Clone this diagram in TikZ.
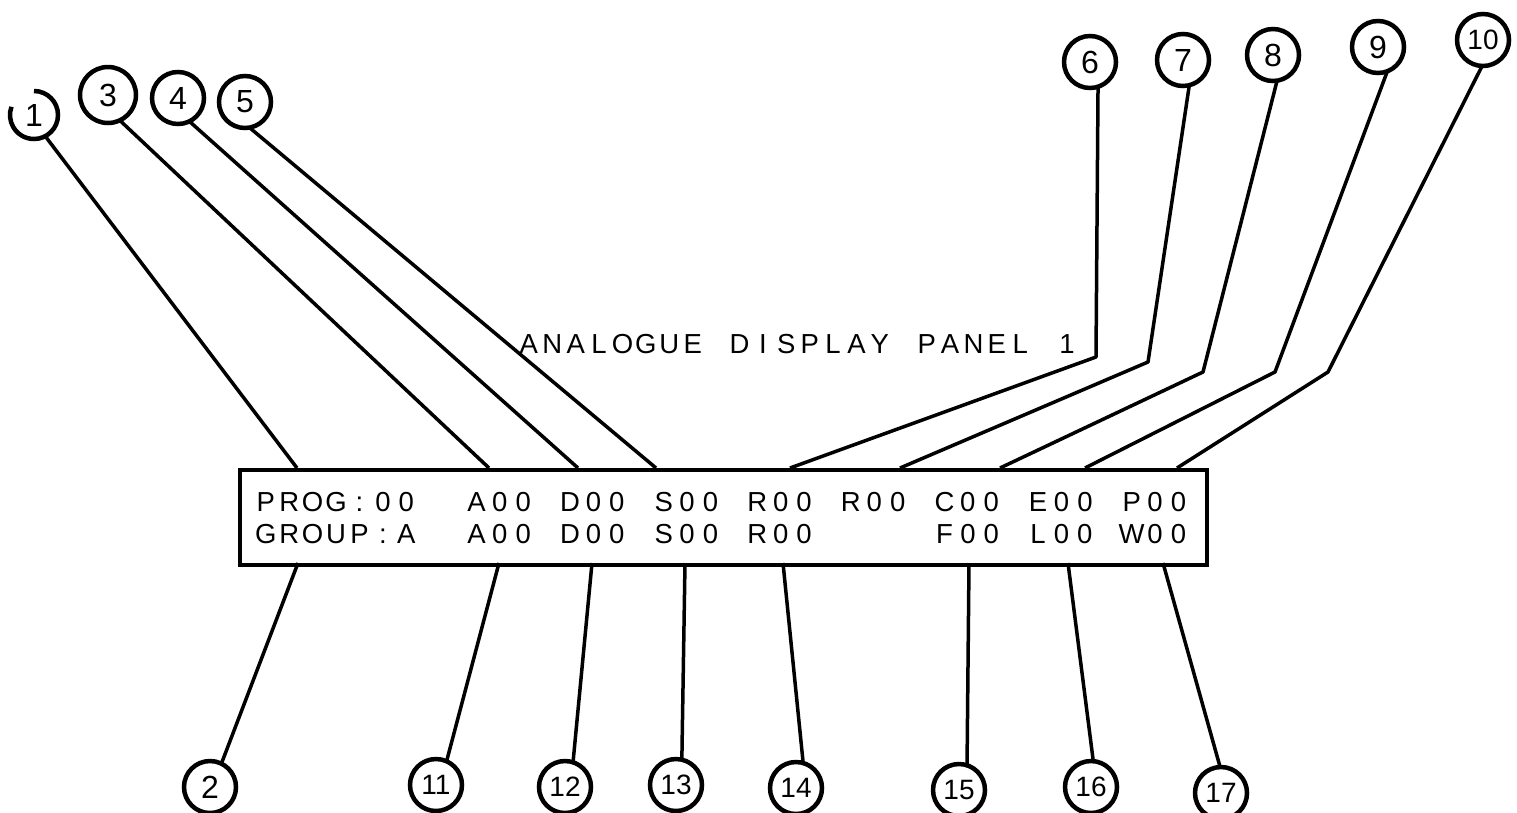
\documentclass[tikz,border=0pt]{standalone}
\usepackage{fontspec}
\setmainfont{Liberation Sans}
\newlength\cw
\setlength\cw{23.4pt}
\newcommand\cells[1]{\cellsaux#1\relax}
\def\cellsaux#1{\ifx#1\relax\else\makebox[\cw][c]{#1}\expandafter\cellsaux\fi}
\newcommand\cellsof[1]{\expandafter\cells\expandafter{#1}}
\tikzset{
  num/.style={circle, draw, line width=4.5pt, minimum size=52pt, inner sep=0pt, outer sep=0pt, font=\fontsize{32}{32}\selectfont},
  numtwo/.style={num, font=\fontsize{28}{28}\selectfont},
  lead/.style={line width=3.5pt, line join=round},
  disp/.style={anchor=base west, inner sep=0pt, font=\fontsize{27.5}{27.5}\selectfont},
}
\begin{document}
\begin{tikzpicture}[x=1pt,y=1pt]
\useasboundingbox (0,0) rectangle (1517,-812);
% panel
\node[draw, line width=3.5pt, minimum width=967pt, minimum height=95pt, inner sep=0pt, anchor=north west] (panel) at (238,-468) {};
% display text
\foreach \t/\i [count=\n] in {PROG:00/0, A00/9, D00/13, S00/17, R00/21, R00/25, C00/29, E00/33, P00/37}
  \node[disp] (ra\n) at ({254+\i*23.4},-511) {\cellsof{\t}};
\foreach \t/\i [count=\n] in {GROUP:A/0, A00/9, D00/13, S00/17, R00/21, F00/29, L00/33, W00/37}
  \node[disp] (rb\n) at ({254+\i*23.4},-543) {\cellsof{\t}};
\foreach \t/\i [count=\n] in {ANALOGUE/0, DISPLAY/9, PANEL/17, 1/23}
  \node[disp] (ti\n) at ({517+\i*23.4},-353) {\cellsof{\t}};
% top attachment points
\coordinate (t1) at (297,-468);
\coordinate (t3) at (489,-468);
\coordinate (t4) at (578,-468);
\coordinate (t5) at (656,-468);
\coordinate (t6) at (790,-468);
\coordinate (t7) at (900,-468);
\coordinate (t8) at (1000,-468);
\coordinate (t9) at (1085,-468);
\coordinate (t10) at (1177,-468);
% bends
\coordinate (k6) at (1096,-357);
\coordinate (k7) at (1148,-362);
\coordinate (k8) at (1203,-372);
\coordinate (k9) at (1275,-372);
\coordinate (k10) at (1328,-372);
% bottom attachment points
\coordinate (u2) at (298,-563);
\coordinate (u11) at (499,-563);
\coordinate (u12) at (592,-563);
\coordinate (u13) at (685,-563);
\coordinate (u14) at (783,-563);
\coordinate (u15) at (969,-563);
\coordinate (u16) at (1068,-563);
\coordinate (u17) at (1163,-563);
% circles top left
\node[num, draw=none, minimum size=48pt] (c1) at (34,-115) {1};
\draw[line width=4.5pt] (c1.90) arc[start angle=90, end angle=-200, radius=24pt];
\node[num, minimum size=56pt] (c3) at (108,-95) {3};
\node[num] (c4) at (178,-98) {4};
\node[num] (c5) at (245,-102) {5};
% circles top right
\node[num] (c6) at (1090,-62) {6};
\node[num] (c7) at (1183,-60) {7};
\node[num] (c8) at (1273,-55) {8};
\node[num] (c9) at (1378,-47) {9};
\node[numtwo] (c10) at (1483,-40) {10};
% circles bottom
\node[num] (c2) at (210,-787) {2};
\node[numtwo] (c11) at (436,-785) {11};
\node[numtwo] (c12) at (565,-787) {12};
\node[numtwo] (c13) at (676,-785) {13};
\node[numtwo] (c14) at (796,-788) {14};
\node[numtwo] (c15) at (959,-790) {15};
\node[numtwo] (c16) at (1091,-787) {16};
\node[numtwo] (c17) at (1221,-793) {17};
% leaders top
\draw[lead] (c1.-62) -- (t1);
\draw[lead] (c3.-65) -- (t3);
\draw[lead] (c4.-64) -- (t4);
\draw[lead] (c5.-80) -- (t5);
\draw[lead] (c6.-72) -- (k6) -- (t6);
\draw[lead] (c7.-76) -- (k7) -- (t7);
\draw[lead] (c8.-81) -- (k8) -- (t8);
\draw[lead] (c9.-69) -- (k9) -- (t9);
\draw[lead] (c10.-92) -- (k10) -- (t10);
% leaders bottom
\draw[lead] (u2) -- (c2.64);
\draw[lead] (u11) -- (c11.66);
\draw[lead] (u12) -- (c12.72);
\draw[lead] (u13) -- (c13.77);
\draw[lead] (u14) -- (c14.74);
\draw[lead] (u15) -- (c15.72);
\draw[lead] (u16) -- (c16.85);
\draw[lead] (u17) -- (c17.92);
\end{tikzpicture}
\end{document}
